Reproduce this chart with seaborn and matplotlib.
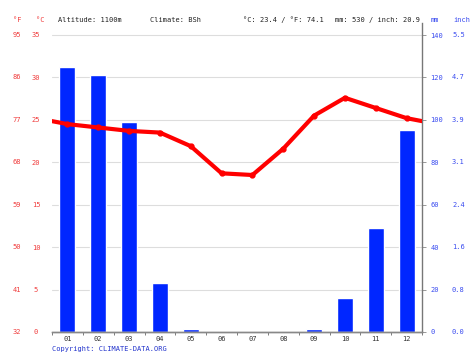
import numpy as np
import pandas as pd
import matplotlib
matplotlib.use("Agg")
import matplotlib.pyplot as plt
import matplotlib.transforms as mtransforms
import seaborn as sns

months = ["01", "02", "03", "04", "05", "06", "07", "08", "09", "10", "11", "12"]
precip_mm = [125, 121, 99, 23, 1.3, 0, 0, 0, 1.3, 16, 49, 95]
temp_c = [24.5, 24.1, 23.7, 23.5, 21.9, 18.7, 18.5, 21.6, 25.5, 27.6, 26.4, 25.2]
c_ticks = [0, 5, 10, 15, 20, 25, 30, 35]
f_labels = ["32", "41", "50", "59", "68", "77", "86", "95"]
mm_ticks = [0, 20, 40, 60, 80, 100, 120, 140]
inch_labels = ["0.0", "0.8", "1.6", "2.4", "3.1", "3.9", "4.7", "5.5"]

RED = "#ff0000"
BLUE = "#0026ff"
RED_TXT = "#f03c3c"
BLUE_TXT = "#3a4cf0"
MONO = "DejaVu Sans Mono"
FS = 5

sns.set_style("white")
plt.rcParams["font.family"] = MONO

fig = plt.figure(figsize=(4.74, 3.55), dpi=100)
ax_p = fig.add_axes([52 / 474, 23 / 355, 370 / 474, 309 / 355])
ax_t = ax_p.twinx()

# precipitation bars (mm scale)
df_p = pd.DataFrame({"month": months, "mm": precip_mm})
sns.barplot(data=df_p, x="month", y="mm", color=BLUE, saturation=1, width=0.52,
            ax=ax_p, zorder=2)
top_mm = 140 + 12 / (297 / 140)
ax_p.set_ylim(0, top_mm)
ax_p.set_xlim(-0.5, 11.5)
ax_p.set_yticks(mm_ticks)
ax_p.yaxis.tick_right()
ax_p.set_yticklabels([str(v) for v in mm_ticks], color=BLUE_TXT, fontsize=FS)
ax_p.tick_params(axis="y", right=True, length=3, width=0.6, color="#888888", pad=3)
ax_p.grid(axis="y", color="#dddddd", linewidth=0.8)
ax_p.set_axisbelow(True)
ax_p.set_xlabel("")
ax_p.set_ylabel("")

# month tick labels centred, tick marks on month boundaries
ax_p.set_xticks(np.arange(12))
ax_p.set_xticklabels(months, fontsize=FS, color="#333333")
ax_p.set_xticks(np.arange(-0.5, 12, 1), minor=True)
ax_p.tick_params(axis="x", which="major", length=0, pad=3)
ax_p.tick_params(axis="x", which="minor", bottom=True, length=2.5, width=0.6, color="#666666")

# temperature line, ends closed with Dec/Jan average
edge = (temp_c[0] + temp_c[-1]) / 2
df_t = pd.DataFrame({"x": [-0.5] + list(range(12)) + [11.5],
                     "c": [edge] + temp_c + [edge]})
sns.lineplot(data=df_t, x="x", y="c", color=RED, linewidth=3, ax=ax_t, zorder=3)
ax_t.plot(range(12), temp_c, "o", color=RED, markersize=3.5, zorder=4)
ax_t.set_ylim(0, 35 * top_mm / 140)
ax_t.set_xlim(-0.5, 11.5)
ax_t.set_yticks(c_ticks)
ax_t.yaxis.tick_left()
ax_t.set_yticklabels([str(v) for v in c_ticks], color=RED_TXT, fontsize=FS)
ax_t.tick_params(axis="y", left=False, right=False, pad=8)
ax_t.set_xlabel("")
ax_t.set_ylabel("")
for lab in ax_t.get_yticklabels():
    lab.set_horizontalalignment("center")

for a in (ax_p, ax_t):
    a.spines["top"].set_visible(False)
    a.spines["left"].set_visible(False)
    a.spines["right"].set_color("#777777")
    a.spines["right"].set_linewidth(1)
    a.spines["bottom"].set_color("#888888")
    a.spines["bottom"].set_linewidth(1)
ax_t.spines["right"].set_visible(False)

# secondary scale columns (°F and inch)
trans_l = mtransforms.blended_transform_factory(fig.transFigure, ax_t.transData)
for c, f in zip(c_ticks, f_labels):
    ax_t.text(17 / 474, c, f, transform=trans_l, ha="center", va="center",
              color=RED_TXT, fontsize=FS, clip_on=False)
trans_r = mtransforms.blended_transform_factory(fig.transFigure, ax_p.transData)
for m, i in zip(mm_ticks, inch_labels):
    ax_p.text(452 / 474, m, i, transform=trans_r, ha="left", va="center",
              color=BLUE_TXT, fontsize=FS, clip_on=False)

# header
hy = 1 - 20 / 355
fig.text(17 / 474, hy, "°F", color=RED_TXT, fontsize=FS, ha="center", va="center")
fig.text(40 / 474, hy, "°C", color=RED_TXT, fontsize=FS, ha="center", va="center")
fig.text(58 / 474, hy, "Altitude: 1100m", color="#222222", fontsize=FS, va="center")
fig.text(150 / 474, hy, "Climate: BSh", color="#222222", fontsize=FS, va="center")
fig.text(243 / 474, hy, "°C: 23.4 / °F: 74.1", color="#222222", fontsize=FS, va="center")
fig.text(335 / 474, hy, "mm: 530 / inch: 20.9", color="#222222", fontsize=FS, va="center")
fig.text(431 / 474, hy, "mm", color=BLUE_TXT, fontsize=FS, va="center")
fig.text(453 / 474, hy, "inch", color=BLUE_TXT, fontsize=FS, va="center")
fig.text(52 / 474, 1 - 349 / 355, "Copyright: CLIMATE-DATA.ORG", color="#2233cc",
         fontsize=FS, va="center")

fig.savefig("out.png", dpi=100, facecolor="white")
